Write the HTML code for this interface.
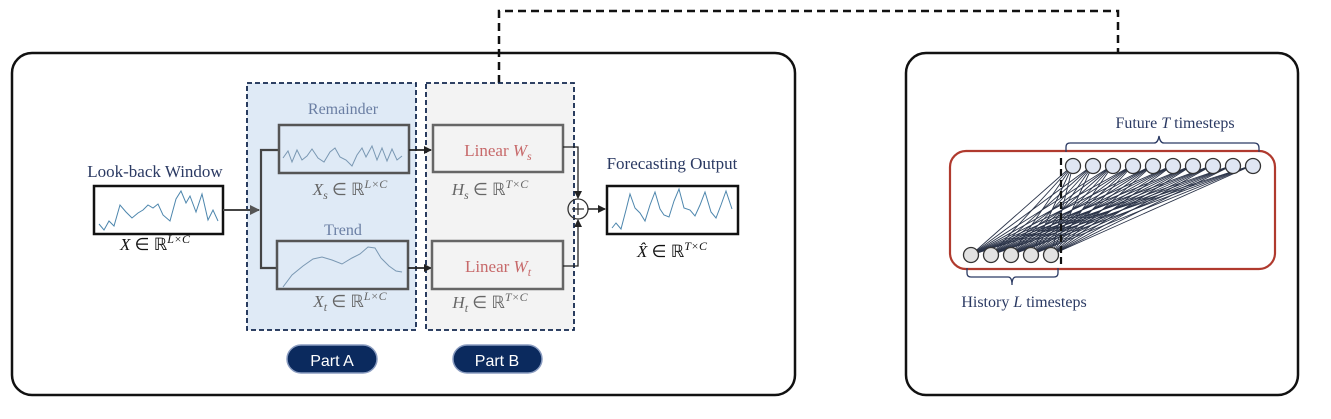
<!DOCTYPE html>
<html><head><meta charset="utf-8"><style>
html,body{margin:0;padding:0;background:#fff;}
svg{display:block;}
text{font-family:"Liberation Serif",serif;}
</style></head><body>
<svg width="1331" height="419" viewBox="0 0 1331 419" xmlns="http://www.w3.org/2000/svg">
<defs>
<marker id="ar" markerWidth="8" markerHeight="8" refX="7" refY="4" orient="auto" markerUnits="userSpaceOnUse"><path d="M0,0 L8,4 L0,8 Z" fill="#222"/></marker>
<marker id="ag" markerWidth="10" markerHeight="10" refX="9" refY="5" orient="auto" markerUnits="userSpaceOnUse"><path d="M0,0 L10,5 L0,10 Z" fill="#555"/></marker>
</defs>
<path d="M499,83 V11 H1118 V53" fill="none" stroke="#111" stroke-width="2.5" stroke-dasharray="8,5"/>
<rect x="12" y="53" width="783" height="342" rx="20" fill="none" stroke="#111" stroke-width="2.5"/>
<rect x="906" y="53" width="392" height="342" rx="20" fill="none" stroke="#111" stroke-width="2.5"/>
<rect x="247" y="83" width="169" height="247" fill="#dfeaf6" stroke="#13284f" stroke-width="1.8" stroke-dasharray="5,3"/>
<rect x="426" y="83" width="148" height="247" fill="#f3f3f3" stroke="#13284f" stroke-width="1.8" stroke-dasharray="5,3"/>
<text x="155" y="177" font-size="17" fill="#2b3a63" text-anchor="middle">Look-back Window</text>
<rect x="94" y="186" width="129" height="48" fill="#fff" stroke="#111" stroke-width="2.5"/>
<polyline points="99,224 104,230 109,221 114,226 120,205 126,212 132,218 138,213 143,210 148,205 153,208 158,204 163,215 170,221 176,199 181,191 186,203 190,196 196,212 202,194 208,220 213,210 218,221" fill="none" stroke="#4d86ad" stroke-width="1"/>
<text x="155" y="250" font-size="17" fill="#111" text-anchor="middle"><tspan font-style="italic">X</tspan> ∈ ℝ<tspan font-size="12" dy="-7" font-style="italic">L×C</tspan></text>
<line x1="223" y1="210" x2="259" y2="210" stroke="#444" stroke-width="2" marker-end="url(#ag)"/>
<path d="M278,150 H261 V268 H278" fill="none" stroke="#444" stroke-width="2.2"/>
<text x="343" y="114" font-size="16" fill="#6a7ea3" text-anchor="middle">Remainder</text>
<rect x="279" y="125" width="130" height="48" fill="none" stroke="#555" stroke-width="2.5"/>
<polyline points="283,158 288,151 292,162 297,150 302,160 307,156 312,149 318,158 324,162 330,152 335,148 340,157 346,160 352,166 357,155 362,148 366,157 372,146 377,160 382,148 387,161 392,149 397,160 402,156" fill="none" stroke="#7a98b3" stroke-width="1"/>
<text x="350" y="195" font-size="17" fill="#666" text-anchor="middle"><tspan font-style="italic">X<tspan font-size="12" dy="4">s</tspan></tspan><tspan dy="-4"> ∈ ℝ</tspan><tspan font-size="12" dy="-7" font-style="italic">L×C</tspan></text>
<text x="343" y="235" font-size="16" fill="#6a7ea3" text-anchor="middle">Trend</text>
<rect x="277" y="241" width="131" height="48" fill="none" stroke="#555" stroke-width="2.5"/>
<polyline points="283,287 292,275 303,266 313,259 322,257 332,260 342,264 352,258 360,254 368,247 375,248 381,258 389,266 396,271 402,272" fill="none" stroke="#7a98b3" stroke-width="1"/>
<text x="350" y="307" font-size="17" fill="#666" text-anchor="middle"><tspan font-style="italic">X<tspan font-size="12" dy="4">t</tspan></tspan><tspan dy="-4"> ∈ ℝ</tspan><tspan font-size="12" dy="-7" font-style="italic">L×C</tspan></text>
<line x1="409" y1="150" x2="431" y2="150" stroke="#222" stroke-width="1.8" marker-end="url(#ar)"/>
<line x1="408" y1="268" x2="431" y2="268" stroke="#222" stroke-width="1.8" marker-end="url(#ar)"/>
<rect x="433" y="125" width="130" height="47" fill="none" stroke="#666" stroke-width="2.5"/>
<text x="498" y="156" font-size="17" fill="#c7696a" text-anchor="middle">Linear <tspan font-style="italic">W<tspan font-size="12" dy="4">s</tspan></tspan></text>
<text x="490" y="195" font-size="17" fill="#666" text-anchor="middle"><tspan font-style="italic">H<tspan font-size="12" dy="4">s</tspan></tspan><tspan dy="-4"> ∈ ℝ</tspan><tspan font-size="12" dy="-7" font-style="italic">T×C</tspan></text>
<rect x="432" y="241" width="131" height="48" fill="none" stroke="#666" stroke-width="2.5"/>
<text x="498" y="272" font-size="17" fill="#c7696a" text-anchor="middle">Linear <tspan font-style="italic">W<tspan font-size="12" dy="4">t</tspan></tspan></text>
<text x="490" y="308" font-size="17" fill="#666" text-anchor="middle"><tspan font-style="italic">H<tspan font-size="12" dy="4">t</tspan></tspan><tspan dy="-4"> ∈ ℝ</tspan><tspan font-size="12" dy="-7" font-style="italic">T×C</tspan></text>
<path d="M563,147 H578 V198" fill="none" stroke="#222" stroke-width="1.3" marker-end="url(#ar)"/>
<path d="M563,266 H578 V220" fill="none" stroke="#222" stroke-width="1.3" marker-end="url(#ar)"/>
<circle cx="578" cy="209" r="10" fill="none" stroke="#333" stroke-width="1.3"/>
<path d="M572,209 H584 M578,203 V215" stroke="#333" stroke-width="1.3"/>
<line x1="588" y1="209" x2="605" y2="209" stroke="#222" stroke-width="1.5" marker-end="url(#ar)"/>
<text x="672" y="169" font-size="17" fill="#2b3a63" text-anchor="middle">Forecasting Output</text>
<rect x="607" y="186" width="131" height="48" fill="#fff" stroke="#111" stroke-width="2.5"/>
<polyline points="612,228 616,223 621,229 626,210 630,194 635,208 640,213 645,221 650,205 655,192 660,209 664,215 669,217 674,201 679,189 684,208 690,210 695,216 700,205 705,192 711,212 716,218 721,205 726,191 732,209" fill="none" stroke="#4d86ad" stroke-width="1"/>
<text x="672" y="257" font-size="17" fill="#111" text-anchor="middle"><tspan font-style="italic">X̂</tspan> ∈ ℝ<tspan font-size="12" dy="-7" font-style="italic">T×C</tspan></text>
<rect x="287" y="345" width="90" height="28" rx="14" fill="#0b2a5e" stroke="#8a9cc0" stroke-width="1.5"/>
<text x="332" y="366" font-size="16" fill="#fff" text-anchor="middle" style="font-family:'Liberation Sans',sans-serif">Part A</text>
<rect x="453" y="345" width="89" height="28" rx="14" fill="#0b2a5e" stroke="#8a9cc0" stroke-width="1.5"/>
<text x="497" y="366" font-size="16" fill="#fff" text-anchor="middle" style="font-family:'Liberation Sans',sans-serif">Part B</text>
<rect x="950" y="151" width="325" height="118" rx="16" fill="none" stroke="#b03a2e" stroke-width="2.2"/>
<g stroke="#2a3348" stroke-width="0.9">
<line x1="971" y1="255" x2="1073" y2="165"/><line x1="971" y1="255" x2="1093" y2="165"/><line x1="971" y1="255" x2="1113" y2="165"/><line x1="971" y1="255" x2="1133" y2="165"/><line x1="971" y1="255" x2="1153" y2="165"/><line x1="971" y1="255" x2="1173" y2="165"/><line x1="971" y1="255" x2="1193" y2="165"/><line x1="971" y1="255" x2="1213" y2="165"/><line x1="971" y1="255" x2="1233" y2="165"/><line x1="971" y1="255" x2="1253" y2="165"/>
<line x1="991" y1="255" x2="1073" y2="165"/><line x1="991" y1="255" x2="1093" y2="165"/><line x1="991" y1="255" x2="1113" y2="165"/><line x1="991" y1="255" x2="1133" y2="165"/><line x1="991" y1="255" x2="1153" y2="165"/><line x1="991" y1="255" x2="1173" y2="165"/><line x1="991" y1="255" x2="1193" y2="165"/><line x1="991" y1="255" x2="1213" y2="165"/><line x1="991" y1="255" x2="1233" y2="165"/><line x1="991" y1="255" x2="1253" y2="165"/>
<line x1="1011" y1="255" x2="1073" y2="165"/><line x1="1011" y1="255" x2="1093" y2="165"/><line x1="1011" y1="255" x2="1113" y2="165"/><line x1="1011" y1="255" x2="1133" y2="165"/><line x1="1011" y1="255" x2="1153" y2="165"/><line x1="1011" y1="255" x2="1173" y2="165"/><line x1="1011" y1="255" x2="1193" y2="165"/><line x1="1011" y1="255" x2="1213" y2="165"/><line x1="1011" y1="255" x2="1233" y2="165"/><line x1="1011" y1="255" x2="1253" y2="165"/>
<line x1="1031" y1="255" x2="1073" y2="165"/><line x1="1031" y1="255" x2="1093" y2="165"/><line x1="1031" y1="255" x2="1113" y2="165"/><line x1="1031" y1="255" x2="1133" y2="165"/><line x1="1031" y1="255" x2="1153" y2="165"/><line x1="1031" y1="255" x2="1173" y2="165"/><line x1="1031" y1="255" x2="1193" y2="165"/><line x1="1031" y1="255" x2="1213" y2="165"/><line x1="1031" y1="255" x2="1233" y2="165"/><line x1="1031" y1="255" x2="1253" y2="165"/>
<line x1="1051" y1="255" x2="1073" y2="165"/><line x1="1051" y1="255" x2="1093" y2="165"/><line x1="1051" y1="255" x2="1113" y2="165"/><line x1="1051" y1="255" x2="1133" y2="165"/><line x1="1051" y1="255" x2="1153" y2="165"/><line x1="1051" y1="255" x2="1173" y2="165"/><line x1="1051" y1="255" x2="1193" y2="165"/><line x1="1051" y1="255" x2="1213" y2="165"/><line x1="1051" y1="255" x2="1233" y2="165"/><line x1="1051" y1="255" x2="1253" y2="165"/>
</g>
<line x1="1061" y1="158" x2="1061" y2="266" stroke="#111" stroke-width="2.2" stroke-dasharray="7,4"/>
<g fill="#dfe6f3" stroke="#333" stroke-width="1.3">
<circle cx="1073" cy="166" r="7.5"/><circle cx="1093" cy="166" r="7.5"/><circle cx="1113" cy="166" r="7.5"/><circle cx="1133" cy="166" r="7.5"/><circle cx="1153" cy="166" r="7.5"/><circle cx="1173" cy="166" r="7.5"/><circle cx="1193" cy="166" r="7.5"/><circle cx="1213" cy="166" r="7.5"/><circle cx="1233" cy="166" r="7.5"/><circle cx="1253" cy="166" r="7.5"/>
</g>
<g fill="#e2e2e2" stroke="#333" stroke-width="1.3">
<circle cx="971" cy="255" r="7.5"/><circle cx="991" cy="255" r="7.5"/><circle cx="1011" cy="255" r="7.5"/><circle cx="1031" cy="255" r="7.5"/><circle cx="1051" cy="255" r="7.5"/>
</g>
<path d="M1066,152 V147 Q1066,143 1070,143 H1154 Q1158,143 1159,136 Q1160,143 1164,143 H1254 Q1259,143 1259,148 V152" fill="none" stroke="#2b3a63" stroke-width="1.3"/>
<text x="1175" y="128" font-size="16" fill="#2b3a63" text-anchor="middle">Future <tspan font-style="italic">T</tspan> timesteps</text>
<path d="M967,268 V273 Q967,277 971,277 H1008 Q1012,277 1012,285 Q1012,277 1016,277 H1054 Q1058,277 1058,273 V268" fill="none" stroke="#2b3a63" stroke-width="1.3"/>
<text x="1024" y="307" font-size="16" fill="#2b3a63" text-anchor="middle">History <tspan font-style="italic">L</tspan> timesteps</text>
</svg>
</body></html>
